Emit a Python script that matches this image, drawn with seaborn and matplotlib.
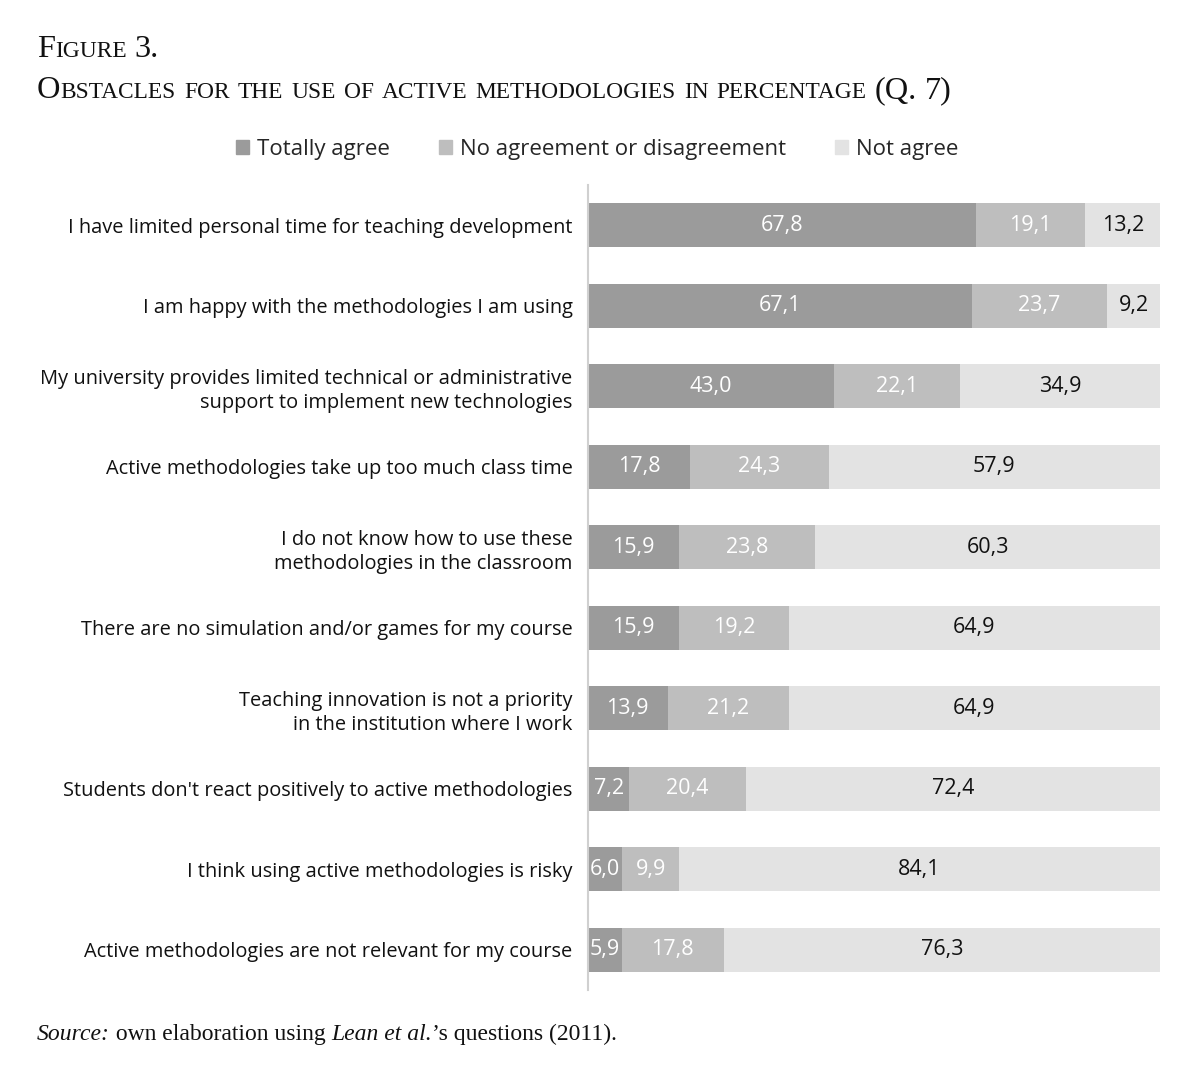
import numpy as np
import pandas as pd
import matplotlib
matplotlib.use('Agg')
import matplotlib.pyplot as plt
import matplotlib.patches as mpatches
import seaborn as sns

# data
questions = [
    'I have limited personal time for teaching development',
    'I am happy with the methodologies I am using',
    'My university provides limited technical or administrative\nsupport to implement new technologies',
    'Active methodologies take up too much class time',
    'I do not know how to use these\nmethodologies in the classroom',
    'There are no simulation and/or games for my course',
    'Teaching innovation is not a priority\nin the institution where I work',
    "Students don't react positively to active methodologies",
    'I think using active methodologies is risky',
    'Active methodologies are not relevant for my course',
]
totally_agree = [67.8, 67.1, 43.0, 17.8, 15.9, 15.9, 13.9, 7.2, 6.0, 5.9]
neutral = [19.1, 23.7, 22.1, 24.3, 23.8, 19.2, 21.2, 20.4, 9.9, 17.8]
not_agree = [13.2, 9.2, 34.9, 57.9, 60.3, 64.9, 64.9, 72.4, 84.1, 76.3]
series_names = ['Totally agree', 'No agreement or disagreement', 'Not agree']
colors = ['#9b9b9b', '#bebebe', '#e3e3e3']

df = pd.DataFrame({'pregunta': questions, 'ta': totally_agree,
                   'nn': neutral, 'na': not_agree})
df['c1'] = df['ta']
df['c2'] = df['ta'] + df['nn']
df['c3'] = df['ta'] + df['nn'] + df['na']

sans = ['Open Sans', 'DejaVu Sans']
serif = ['Liberation Serif', 'DejaVu Serif']

sns.set_style('white')
plt.rcParams['font.family'] = sans

fig = plt.figure(figsize=(11.96, 10.77), dpi=100)
ax = fig.add_axes([588 / 1196, 1 - 990 / 1077, (1160 - 588) / 1196, (990 - 185) / 1077])

# stacked bars: cumulative totals drawn back to front
for col, c in [('c3', colors[2]), ('c2', colors[1]), ('c1', colors[0])]:
    sns.barplot(data=df, x=col, y='pregunta', color=c, orient='h',
                width=0.55, saturation=1, linewidth=0, ax=ax)

ax.set_xlim(0, 100)
ax.set_ylim(9.5, -0.5)
ax.set_xlabel('')
ax.set_ylabel('')
ax.set_xticks([])
ax.tick_params(axis='y', length=0, pad=11, labelsize=14.4, labelcolor='#111111')
for lab in ax.get_yticklabels():
    lab.set_horizontalalignment('right')
    lab.set_linespacing(1.3)
for s in ['top', 'right', 'bottom']:
    ax.spines[s].set_visible(False)
ax.spines['left'].set_color('#d0d0d0')
ax.spines['left'].set_linewidth(1.5)

# etiquetas de valores
def fmt(v):
    return f'{v:.1f}'.replace('.', ',')

for i in range(len(df)):
    starts = [0, df['c1'][i], df['c2'][i]]
    vals = [df['ta'][i], df['nn'][i], df['na'][i]]
    for k in range(3):
        col = 'white' if k < 2 else '#111111'
        ax.text(starts[k] + vals[k] / 2, i, fmt(vals[k]), ha='center',
                va='center', fontsize=15.5, color=col)

# legend
handles = [mpatches.Patch(color=c, label=n) for c, n in zip(colors, series_names)]
fig.legend(handles=handles, loc='center', bbox_to_anchor=(597 / 1196, 1 - 149 / 1077),
           ncol=3, frameon=False, fontsize=16, handlelength=0.6, handleheight=0.6,
           handletextpad=0.35, columnspacing=2.2)

# small caps title
renderer = fig.canvas.get_renderer()

def draw_runs(x, y, runs):
    # runs: list of (text, size, style)
    for txt, size, style in runs:
        t = fig.text(x / 1196, 1 - y / 1077, txt, fontsize=size, family=serif,
                     style=style, va='baseline', ha='left', color='#111111')
        w = t.get_window_extent(renderer).width
        x += w
    return x

def space_w(size, style='normal'):
    a = fig.text(0, 0, 'x x', fontsize=size, family=serif, style=style)
    b = fig.text(0, 0, 'xx', fontsize=size, family=serif, style=style)
    w = a.get_window_extent(renderer).width - b.get_window_extent(renderer).width
    a.remove()
    b.remove()
    return w

def small_caps(x, y, text, big, small):
    sp = space_w(big)
    for word in text.split(' '):
        runs = []
        for ch in word:
            if ch.islower():
                if runs and runs[-1][1] == small:
                    runs[-1] = (runs[-1][0] + ch.upper(), small, 'normal')
                else:
                    runs.append((ch.upper(), small, 'normal'))
            else:
                if runs and runs[-1][1] == big:
                    runs[-1] = (runs[-1][0] + ch, big, 'normal')
                else:
                    runs.append((ch, big, 'normal'))
        x = draw_runs(x, y, runs) + sp

small_caps(37, 57, 'Figure 3.', 23.3, 16.8)
small_caps(37, 98, 'Obstacles for the use of active methodologies in percentage (Q. 7)', 23.3, 16.8)

# source line
draw_runs(37, 1040, [('Source:', 17, 'italic'), (' own elaboration using ', 17, 'normal'),
                     ('Lean et al.', 17, 'italic'), ('\u2019s questions (2011).', 17, 'normal')])

plt.savefig('out.png', dpi=100)
